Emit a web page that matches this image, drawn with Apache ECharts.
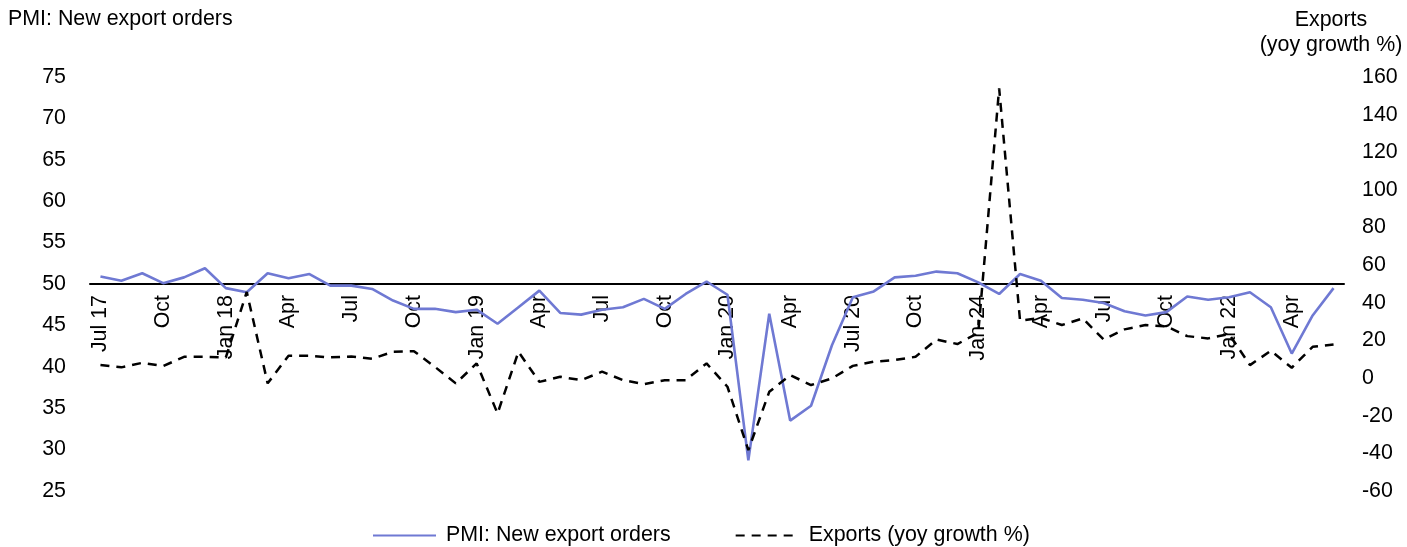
<!DOCTYPE html>
<html>
<head>
<meta charset="utf-8">
<script src="https://cdn.jsdelivr.net/npm/echarts@6/dist/echarts.min.js"></script>
<style>
  html, body { margin: 0; padding: 0; background: #fff; }
  #chart { width: 1407px; height: 547px; }
</style>
</head>
<body>
<div id="chart"></div>
<script>
// Monthly observations, Jul 2017 – Jun 2022
const months = [
  '2017-07','2017-08','2017-09','2017-10','2017-11','2017-12',
  '2018-01','2018-02','2018-03','2018-04','2018-05','2018-06',
  '2018-07','2018-08','2018-09','2018-10','2018-11','2018-12',
  '2019-01','2019-02','2019-03','2019-04','2019-05','2019-06',
  '2019-07','2019-08','2019-09','2019-10','2019-11','2019-12',
  '2020-01','2020-02','2020-03','2020-04','2020-05','2020-06',
  '2020-07','2020-08','2020-09','2020-10','2020-11','2020-12',
  '2021-01','2021-02','2021-03','2021-04','2021-05','2021-06',
  '2021-07','2021-08','2021-09','2021-10','2021-11','2021-12',
  '2022-01','2022-02','2022-03','2022-04','2022-05','2022-06'
];

// Quarterly tick labels (one every third month)
const tickLabels = ['Jul 17','Oct','Jan 18','Apr','Jul','Oct','Jan 19','Apr','Jul','Oct',
                    'Jan 20','Apr','Jul 20','Oct','Jan-24','Apr','Jul','Oct','Jan 22','Apr'];

// PMI: new export orders index (left axis)
const pmiExportOrders = [
  50.9, 50.4, 51.3, 50.1, 50.8, 51.9,
  49.5, 49.0, 51.3, 50.7, 51.2, 49.8,
  49.8, 49.4, 48.0, 47.0, 47.0, 46.6,
  46.9, 45.2, 47.2, 49.2, 46.5, 46.3,
  46.9, 47.2, 48.2, 47.0, 48.8, 50.3,
  48.7, 28.7, 46.4, 33.5, 35.3, 42.6,
  48.4, 49.1, 50.8, 51.0, 51.5, 51.3,
  50.2, 48.8, 51.2, 50.4, 48.3, 48.1,
  47.7, 46.7, 46.2, 46.6, 48.5, 48.1,
  48.4, 49.0, 47.2, 41.6, 46.2, 49.5
];

// Exports, year-on-year growth in % (right axis)
const exportsYoY = [
  6.9, 5.7, 8.1, 6.4, 11.3, 11.3,
  11.0, 45.8, -2.8, 11.9, 11.9, 11.0,
  11.5, 10.3, 14.0, 14.3, 6.0, -2.8,
  7.8, -18.8, 14.0, -2.0, 0.7, -1.1,
  3.4, -1.1, -3.2, -1.1, -1.1, 7.8,
  -4.6, -38.3, -7.3, 1.6, -3.7, -0.2,
  6.5, 8.7, 9.6, 11.3, 20.5, 18.1,
  24.0, 154.0, 30.5, 32.0, 28.2, 31.7,
  20.5, 25.9, 28.2, 27.5, 22.3, 21.1,
  23.4, 6.9, 14.5, 5.5, 16.6, 17.9
];

const FONT = "'Liberation Sans', Arial, sans-serif";
const TEXT_COLOR = '#000';
const FS = 21.4;

const LEFT_MIN = 25, LEFT_MAX = 75, THRESHOLD = 50;
const gridCfg = { left: 90, right: 63, top: 77, bottom: 56 };

const el = document.getElementById('chart');
const chart = echarts.init(el, null, { renderer: 'canvas' });

// The category axis sits on the 50 line of the left scale
const plotHeight = chart.getHeight() - gridCfg.top - gridCfg.bottom;
const axisShift = -plotHeight * (THRESHOLD - LEFT_MIN) / (LEFT_MAX - LEFT_MIN);

const option = {
  backgroundColor: '#fff',
  animation: false,
  textStyle: { fontFamily: FONT, color: TEXT_COLOR },
  grid: gridCfg,
  graphic: [
    {
      type: 'text', left: 8, top: 9,
      style: { text: 'PMI: New export orders', font: FS + 'px ' + FONT, fill: TEXT_COLOR }
    },
    {
      type: 'text', x: 1331, y: 8,
      style: {
        text: 'Exports\n(yoy growth %)', font: FS + 'px ' + FONT, fill: TEXT_COLOR,
        align: 'center', lineHeight: 25
      }
    }
  ],
  legend: {
    left: 367, top: 520,
    itemWidth: 63, itemHeight: 20, itemGap: 64,
    itemStyle: { opacity: 0 },
    textStyle: { fontSize: FS, fontFamily: FONT, color: TEXT_COLOR, padding: [0, 0, 0, 5] },
    data: ['PMI: New export orders', 'Exports (yoy growth %)']
  },
  xAxis: {
    type: 'category',
    data: months,
    boundaryGap: true,
    position: 'bottom',
    offset: axisShift,
    axisLine: { onZero: false, lineStyle: { color: '#000', width: 2 } },
    axisTick: { show: false },
    axisLabel: {
      interval: 2,
      rotate: 90,
      margin: 11,
      fontSize: FS,
      fontFamily: FONT,
      color: TEXT_COLOR,
      formatter: (v, i) => tickLabels[Math.round(i / 3)]
    },
    splitLine: { show: false }
  },
  yAxis: [
    {
      type: 'value', position: 'left',
      min: LEFT_MIN, max: LEFT_MAX, interval: 5,
      axisLine: { show: false }, axisTick: { show: false },
      splitLine: { show: false },
      axisLabel: { fontSize: FS, fontFamily: FONT, color: TEXT_COLOR, margin: 24 }
    },
    {
      type: 'value', position: 'right',
      min: -60, max: 160, interval: 20,
      axisLine: { show: false }, axisTick: { show: false },
      splitLine: { show: false },
      axisLabel: { fontSize: FS, fontFamily: FONT, color: TEXT_COLOR, margin: 18, align: 'left' }
    }
  ],
  series: [
    {
      name: 'PMI: New export orders',
      type: 'line',
      yAxisIndex: 0,
      data: pmiExportOrders,
      symbol: 'none',
      lineStyle: { color: '#6f79d3', width: 2.6 },
      itemStyle: { color: '#6f79d3' },
      z: 3
    },
    {
      name: 'Exports (yoy growth %)',
      type: 'line',
      yAxisIndex: 1,
      data: exportsYoY,
      symbol: 'none',
      lineStyle: { color: '#000', width: 2.5, type: [9, 7] },
      itemStyle: { color: '#000' },
      z: 4
    }
  ]
};

chart.setOption(option);
</script>
</body>
</html>
